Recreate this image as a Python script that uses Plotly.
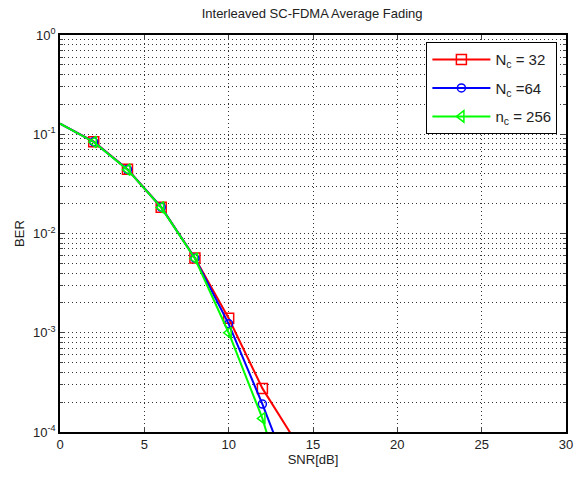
import plotly.graph_objects as go

# SNR points (dB) and measured bit error rates
snr = [0, 2, 4, 6, 8, 10, 12, 14]
ber_nc32 = [0.128, 0.0841, 0.0443, 0.0184, 0.00566, 0.00140, 0.000275, 0.000079]
ber_nc64 = [0.128, 0.0838, 0.0442, 0.0184, 0.00563, 0.00123, 0.000191, 0.000025]
ber_nc256 = [0.128, 0.0836, 0.0440, 0.0183, 0.00560, 0.00100, 0.000137, 0.000010]

series_names = ["N<sub>c</sub> = 32", "N<sub>c</sub> =64", "n<sub>c</sub> = 256"]
y_tick_vals = [1e-4, 1e-3, 1e-2, 1e-1, 1]
y_tick_text = ["10<sup>-4</sup>", "10<sup>-3</sup>", "10<sup>-2</sup>", "10<sup>-1</sup>", "10<sup>0</sup>"]
x_tick_vals = [0, 5, 10, 15, 20, 25, 30]

styles = [
    dict(color="#FF0000", symbol="square-open", size=10),
    dict(color="#0000FF", symbol="circle-open", size=8),
    dict(color="#00FF00", symbol="triangle-left-open", size=10),
]

fig = go.Figure()
for i, (name, ber, st) in enumerate(zip(series_names, [ber_nc32, ber_nc64, ber_nc256], styles)):
    # full curve
    fig.add_trace(go.Scatter(x=snr, y=ber, mode="lines",
                             line=dict(color=st["color"], width=2),
                             showlegend=False, hoverinfo="skip"))
    # markers on the interior sample points
    fig.add_trace(go.Scatter(x=snr[1:-1], y=ber[1:-1], mode="markers",
                             marker=dict(color=st["color"], symbol=st["symbol"], size=st["size"],
                                         line=dict(color=st["color"], width=1.5)),
                             showlegend=False))
    # legend entry
    fig.add_trace(go.Scatter(x=[None], y=[None], mode="lines+markers", name=name,
                             legendgroup=f"g{i}",
                             line=dict(color=st["color"], width=2),
                             marker=dict(color=st["color"], symbol=st["symbol"], size=st["size"],
                                         line=dict(color=st["color"], width=1.5))))

grid_color = "#333333"
grid_dash = "1px,3px"
fig.update_layout(
    width=578, height=477,
    margin=dict(l=60, r=12, t=35, b=45),
    paper_bgcolor="white", plot_bgcolor="white",
    font=dict(family="Liberation Sans, Arial", size=12, color="#222222"),
    title=dict(text="Interleaved SC-FDMA Average Fading", x=0.54, xanchor="center",
               y=0.972, yanchor="middle", font=dict(size=13, color="#222222")),
    legend=dict(x=0.983, y=0.982, xanchor="right", yanchor="top",
                bgcolor="white", bordercolor="black", borderwidth=1,
                font=dict(size=15, color="#222222"), tracegroupgap=6,
                itemwidth=58),
)
fig.update_xaxes(
    range=[0, 30], tickvals=x_tick_vals, ticks="inside", ticklen=5,
    showline=True, linecolor="black", linewidth=1.5, mirror="allticks",
    showgrid=True, gridcolor=grid_color, griddash=grid_dash, gridwidth=1,
    zeroline=False, automargin=False,
    tickfont=dict(size=13),
    title=dict(text="SNR[dB]", standoff=4, font=dict(size=13)),
)
fig.update_yaxes(
    type="log", range=[-4, 0], tickvals=y_tick_vals, ticktext=y_tick_text,
    ticks="inside", ticklen=5,
    showline=True, linecolor="black", linewidth=1.5, mirror="allticks",
    showgrid=True, gridcolor=grid_color, griddash=grid_dash, gridwidth=1,
    minor=dict(dtick="D1", ticks="inside", ticklen=3, showgrid=True,
               gridcolor=grid_color, griddash=grid_dash, gridwidth=1),
    zeroline=False, automargin=False,
    tickfont=dict(size=13),
    title=dict(text="BER", standoff=6, font=dict(size=13)),
)

fig.write_html("out.html")
